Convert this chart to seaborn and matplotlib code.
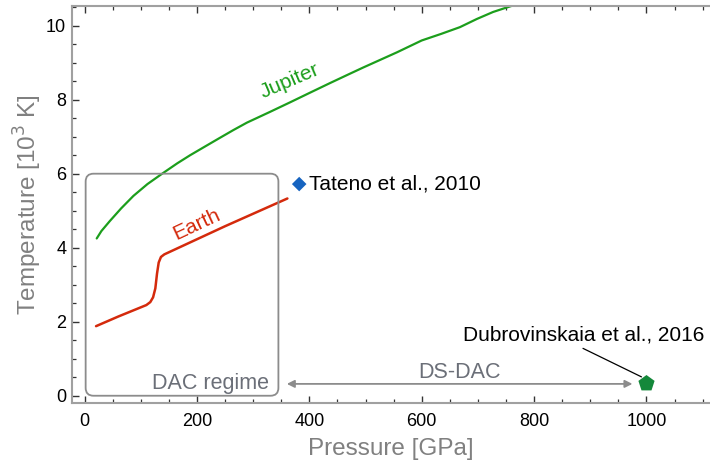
import numpy as np
import pandas as pd
import matplotlib
matplotlib.use("Agg")
import matplotlib.pyplot as plt
from matplotlib.patches import FancyBboxPatch
from matplotlib.ticker import MultipleLocator
import seaborn as sns

# Jupiter adiabat (pressure in GPa, temperature in 10^3 K)
jupiter_p = [21.7, 30, 45, 65, 87, 112, 140, 165, 188, 215, 241, 265, 289, 330, 366,
             400, 437, 472, 496, 556, 600, 635, 668, 698, 727, 751, 790]
jupiter_t = [4.25, 4.45, 4.72, 5.06, 5.40, 5.72, 6.02, 6.28, 6.50, 6.74, 6.97, 7.18, 7.38, 7.67, 7.93,
             8.18, 8.45, 8.70, 8.87, 9.28, 9.60, 9.78, 9.96, 10.18, 10.37, 10.49, 10.68]

# Earth geotherm
earth_p = [20.5, 60, 110, 117, 122, 126, 129, 132, 136, 142, 250, 361]
earth_t = [1.88, 2.14, 2.45, 2.53, 2.66, 2.90, 3.30, 3.60, 3.75, 3.82, 4.58, 5.33]

# Experimental points
tateno_p, tateno_t = [382], [5.72]
dubro_p, dubro_t = [1000], [0.33]

# Regimes
dac_box = (2, 345, 0.0, 6.0)         # P min, P max, T min, T max
dsdac_span = (360, 975)               # arrow extent in GPa
dsdac_level = 0.32

xticks = [0, 200, 400, 600, 800, 1000]
yticks = [0, 2, 4, 6, 8, 10]

sns.set_theme(style="ticks")
plt.rcParams["font.family"] = ["Liberation Sans", "DejaVu Sans"]

green = "#1c9e1c"
red = "#d42a0c"
gray_txt = "#6b6f78"
spine_gray = "#a0a0a0"

fig = plt.figure(figsize=(7.1, 4.66), dpi=100)
ax = fig.add_axes([0.101, 0.1345, 0.899, 0.8533])

jup = pd.DataFrame({"P": jupiter_p, "T": jupiter_t})
ear = pd.DataFrame({"P": earth_p, "T": earth_t})
sns.lineplot(data=jup, x="P", y="T", ax=ax, color=green, lw=1.6, sort=False, estimator=None)
sns.lineplot(data=ear, x="P", y="T", ax=ax, color=red, lw=1.8, sort=False, estimator=None)

sns.scatterplot(x=tateno_p, y=tateno_t, ax=ax, marker="D", s=55, color="#1764c0",
                edgecolor="none", zorder=5)
sns.scatterplot(x=dubro_p, y=dubro_t, ax=ax, marker="p", s=150, color="#14883a",
                edgecolor="none", zorder=5)

# DAC regime box with corners that look round on screen
x0, x1, y0, y1 = dac_box
box = FancyBboxPatch((x0, y0), x1 - x0, y1 - y0,
                     boxstyle="round,pad=0,rounding_size=14",
                     mutation_aspect=0.0152,
                     fc="none", ec="#8c8c8c", lw=1.3, zorder=3)
ax.add_patch(box)
ax.text(x1 - 17, y0 + 0.33, "DAC regime", ha="right", va="center", fontsize=15.5, color=gray_txt)

# DS-DAC span arrow
ax.annotate("", xy=(dsdac_span[0], dsdac_level), xytext=(dsdac_span[1], dsdac_level),
            arrowprops=dict(arrowstyle="<|-|>", color="#8c8c8c", lw=1.3,
                            mutation_scale=11, shrinkA=0, shrinkB=0))
ax.text(sum(dsdac_span) / 2, 0.64, "DS-DAC", ha="center", va="center",
        fontsize=15.5, color=gray_txt)

# Labels for curves and points
ax.text(366, 8.5, "Jupiter", color=green, fontsize=15, rotation=23,
        ha="center", va="center", rotation_mode="anchor")
ax.text(200, 4.62, "Earth", color=red, fontsize=15, rotation=25,
        ha="center", va="center", rotation_mode="anchor")
ax.text(tateno_p[0] + 17, tateno_t[0], "Tateno et al., 2010", fontsize=15,
        color="black", ha="left", va="center")
ax.text(889, 1.64, "Dubrovinskaia et al., 2016", fontsize=15, color="black",
        ha="center", va="center")
ax.annotate("", xy=(dubro_p[0] - 9, dubro_t[0] + 0.18), xytext=(887, 1.28),
            arrowprops=dict(arrowstyle="-", color="black", lw=0.9, shrinkA=0, shrinkB=0))

ax.set_xlim(-22.8, 1113)
ax.set_ylim(-0.205, 10.54)
ax.set_xticks(xticks)
ax.set_yticks(yticks)
ax.xaxis.set_minor_locator(MultipleLocator(50))
ax.yaxis.set_minor_locator(MultipleLocator(0.5))
ax.tick_params(which="both", direction="in", top=True, right=False, colors="#333333",
               labelcolor="black", labelsize=13)
ax.tick_params(which="major", length=5, width=1.0)
ax.tick_params(which="minor", length=3, width=0.9)
ax.tick_params(axis="x", pad=7)
ax.tick_params(axis="y", pad=4)

for side in ["left", "bottom", "top"]:
    ax.spines[side].set_color(spine_gray)
    ax.spines[side].set_linewidth(1.5)
ax.spines["right"].set_visible(False)

ax.set_xlabel("Pressure [GPa]", fontsize=17.5, color="#808080", labelpad=6)
ax.set_ylabel(r"Temperature [10$^3$ K]", fontsize=17.5, color="#808080", labelpad=1.5)

fig.savefig("out.png", dpi=100)
